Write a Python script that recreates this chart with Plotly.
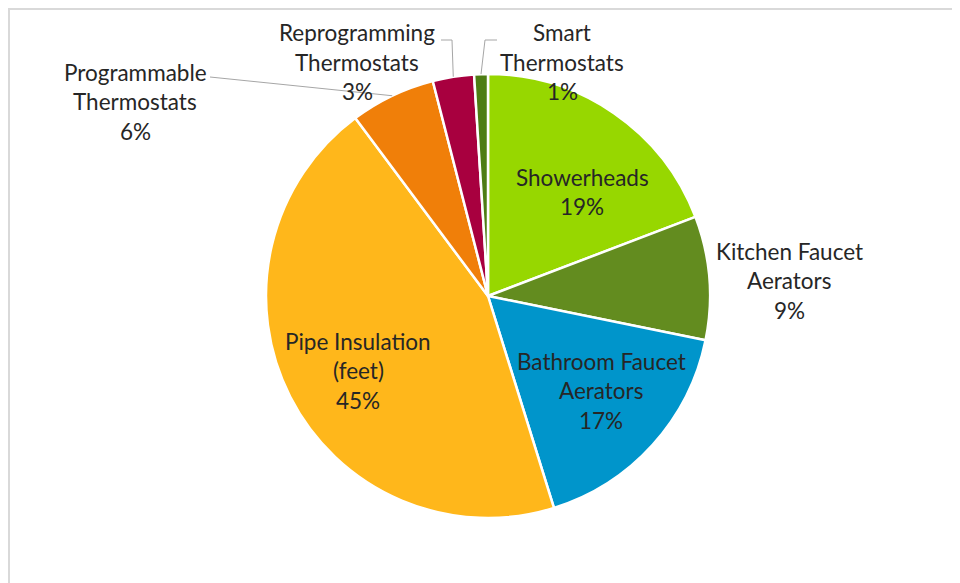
import math
import plotly.graph_objects as go

categories = ["Showerheads", "Kitchen Faucet Aerators", "Bathroom Faucet Aerators",
              "Pipe Insulation (feet)", "Programmable Thermostats",
              "Reprogramming Thermostats", "Smart Thermostats"]
values = [19.2, 9.0, 17.0, 44.6, 6.2, 3.0, 1.0]  # percent shares
name_lines = [["Showerheads"], ["Kitchen Faucet", "Aerators"],
              ["Bathroom Faucet", "Aerators"], ["Pipe Insulation", "(feet)"],
              ["Programmable", "Thermostats"], ["Reprogramming", "Thermostats"],
              ["Smart", "Thermostats"]]
colors = ["#97D700", "#638C1F", "#0095CB", "#FFB71B", "#F07F09", "#A8003F", "#4E7D14"]

OFF = 8  # page body margin
W, H = 960 - OFF, 583 - OFF
CX, CY, R = 488, 296, 222  # screen pixels

# label centre positions (screen pixels) for the first line, and line pitch
label_pos = [(582, 177), (789, 251), (601, 361), (358, 341), (135, 72), (357, 33), (562, 33)]
PITCH = 29.5
FONT = "Lato, Carlito, Calibri, sans-serif"
FS = 22.5

def px(x):
    return (x - OFF) / W

def py(y):
    return 1 - (y - OFF) / H

fig = go.Figure(go.Pie(
    labels=categories, values=values, sort=False, direction="clockwise", rotation=0,
    marker=dict(colors=colors, line=dict(color="white", width=2.5)),
    textinfo="none", hoverinfo="label+percent", showlegend=False,
    domain=dict(x=[px(CX - R), px(CX + R)], y=[py(CY + R), py(CY - R)]),
))

total = sum(values)
annotations = []
for names, v, (x, y) in zip(name_lines, values, label_pos):
    lines = names + [f"{round(v / total * 100)}%"]
    for i, t in enumerate(lines):
        annotations.append(dict(
            x=px(x), y=py(y + i * PITCH), xref="paper", yref="paper",
            text=t, showarrow=False, xanchor="center", yanchor="middle",
            font=dict(family=FONT, size=FS, color="#262626")))

# leader lines for the small outside-labelled slices, ending at slice mid-angles
cum = 0
mids = []
for v in values:
    mids.append((cum + v / 2) / total * 2 * math.pi)
    cum += v

def edge(i):
    a = mids[i]
    return CX + R * math.sin(a), CY - R * math.cos(a)

shapes = []
gray = "#A6A6A6"
ex, ey = edge(4)
shapes.append(dict(type="path", xref="paper", yref="paper",
                   path=f"M {px(210)} {py(77)} L {px(ex)} {py(ey)}",
                   line=dict(color=gray, width=1)))
ex, ey = edge(5)
shapes.append(dict(type="path", xref="paper", yref="paper",
                   path=f"M {px(441)} {py(40)} L {px(452)} {py(40)} L {px(ex)} {py(ey)}",
                   line=dict(color=gray, width=1)))
ex, ey = edge(6)
shapes.append(dict(type="path", xref="paper", yref="paper",
                   path=f"M {px(497)} {py(40)} L {px(485)} {py(40)} L {px(ex)} {py(ey)}",
                   line=dict(color=gray, width=1)))
# chart frame (extends beyond right and bottom edges)
shapes.append(dict(type="rect", xref="paper", yref="paper",
                   x0=px(9), y0=py(583 + 30), x1=px(960 + 30), y1=py(9),
                   line=dict(color="#D9D9D9", width=2), fillcolor="rgba(0,0,0,0)", layer="below"))

fig.update_layout(
    width=W, height=H, margin=dict(l=0, r=0, t=0, b=0),
    paper_bgcolor="white", plot_bgcolor="white",
    annotations=annotations, shapes=shapes,
)

fig.write_html("out.html")
